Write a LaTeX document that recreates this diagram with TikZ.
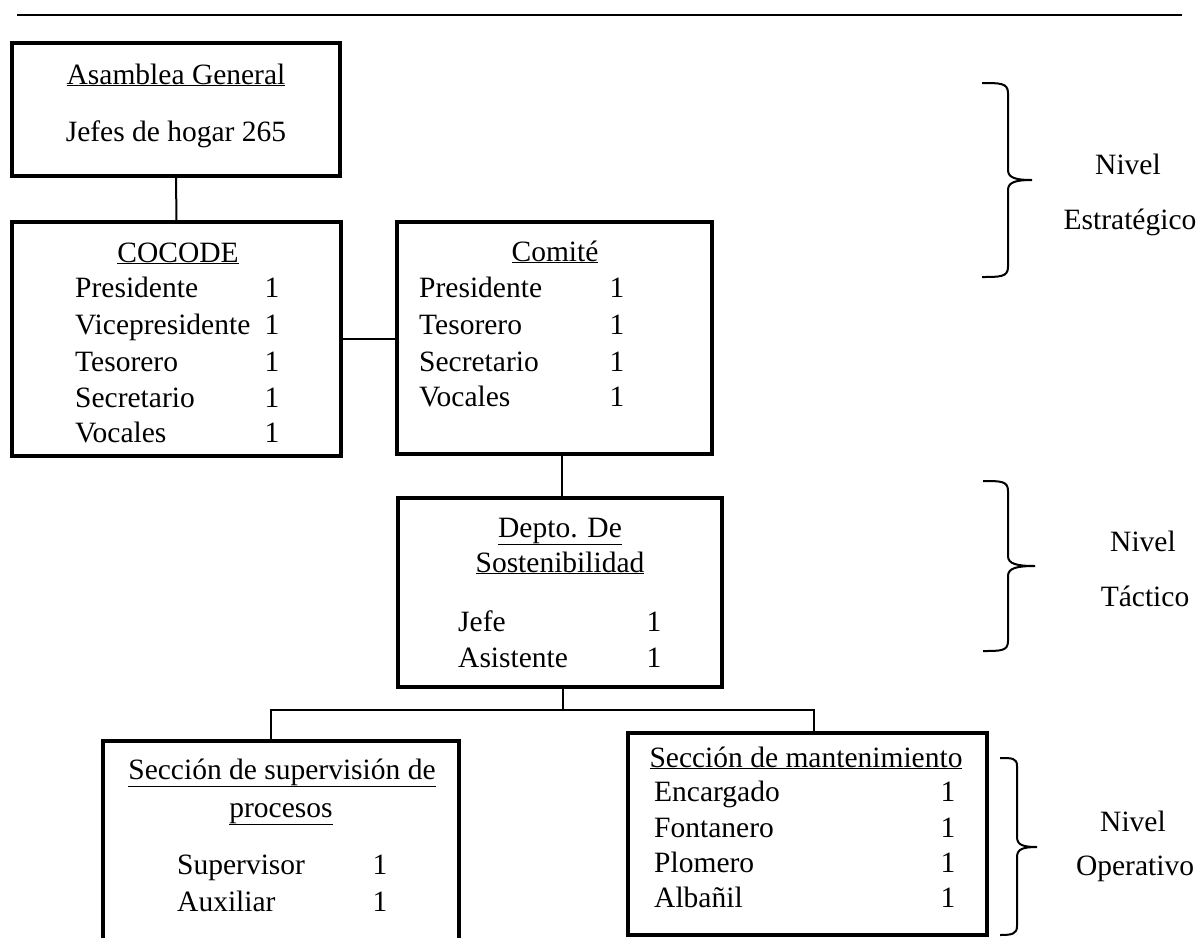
\documentclass[tikz,border=0pt]{standalone}
\usepackage{fontspec}
\setmainfont{Liberation Serif}
\begin{document}
\begin{tikzpicture}[x=1pt,y=-1pt,
  every node/.style={font=\fontsize{29.5}{35}\selectfont, inner sep=0pt},
  orgbox/.style={draw, line width=3.2pt, rectangle},
  conn/.style={line width=2pt},
  bracepath/.style={line width=2pt},
  title/.style={anchor=base},
  item/.style={anchor=base west},
  num/.style={anchor=base}]
\useasboundingbox (0,0) rectangle (1196,937);
\clip (0,0) rectangle (1196,937);
% top rule
\coordinate (ruleL) at (17,15);
\coordinate (ruleR) at (1182,15);
\draw[line width=2.2pt] (ruleL) -- (ruleR);

% boxes
\node[orgbox, minimum width=328pt, minimum height=133pt] (asam) at (176,109.5) {};
\node[orgbox, minimum width=329pt, minimum height=234pt] (cocode) at (176.5,339) {};
\node[orgbox, minimum width=315pt, minimum height=232pt] (comite) at (554.5,338) {};
\node[orgbox, minimum width=324pt, minimum height=189pt] (depto) at (560,592.5) {};
\node[orgbox, minimum width=356pt, minimum height=219pt] (sup) at (281,850.5) {};
\node[orgbox, minimum width=359pt, minimum height=202pt] (mant) at (807.5,834) {};

% connectors
\draw[conn] (asam.south) -- (cocode.north);
\draw[conn] (cocode.east) -- (cocode.east -| comite.west);
\coordinate (cd) at (562,400);
\draw[conn] (cd |- comite.south) -- (cd |- depto.north);
\coordinate (jl) at (271,710);
\coordinate (jm) at (563,710);
\coordinate (jr) at (814,710);
\draw[conn] (jm |- depto.south) -- (jm);
\draw[conn] (jl |- sup.north) -- (jl) -- (jr) -- (jr |- mant.north);

% Asamblea
\node[title] (t1) at (176,84) {\underline{Asamblea General}};
\node[title] (t2) at (176,141) {Jefes de hogar 265};

% COCODE
\node[title] (c0) at (178,262) {\underline{COCODE}};
\node[item] (c1) at (75,297) {Presidente};
\node[item] (c2) at (75,334) {Vicepresidente};
\node[item] (c3) at (75,371) {Tesorero};
\node[item] (c4) at (75,407) {Secretario};
\node[item] (c5) at (75,442) {Vocales};
\node[num] (cn1) at (272,297) {1};
\node[num] (cn2) at (272,334) {1};
\node[num] (cn3) at (272,371) {1};
\node[num] (cn4) at (272,407) {1};
\node[num] (cn5) at (272,442) {1};

% Comite
\node[title] (m0) at (555,261) {\underline{Comité}};
\node[item] (m1) at (419,297) {Presidente};
\node[item] (m2) at (419,334) {Tesorero};
\node[item] (m3) at (419,371) {Secretario};
\node[item] (m4) at (419,406) {Vocales};
\node[num] (mn1) at (617,297) {1};
\node[num] (mn2) at (617,334) {1};
\node[num] (mn3) at (617,371) {1};
\node[num] (mn4) at (617,406) {1};

% Depto
\node[title] (d0) at (560,537) {\underline{Depto. De}};
\node[title] (d1) at (560,572) {\underline{Sostenibilidad}};
\node[item] (d2) at (458,631) {Jefe};
\node[item] (d3) at (458,667) {Asistente};
\node[num] (dn2) at (654,631) {1};
\node[num] (dn3) at (654,667) {1};

% Supervision
\node[title] (s0) at (282,779) {\underline{Sección de supervisión de}};
\node[title] (s1) at (281,817) {\underline{procesos}};
\node[item] (s2) at (177,874) {Supervisor};
\node[item] (s3) at (177,911) {Auxiliar};
\node[num] (sn2) at (380,874) {1};
\node[num] (sn3) at (380,911) {1};

% Mantenimiento
\node[title] (p0) at (806,767) {\underline{Sección de mantenimiento}};
\node[item] (p1) at (654,801) {Encargado};
\node[item] (p2) at (654,837) {Fontanero};
\node[item] (p3) at (654,872) {Plomero};
\node[item] (p4) at (654,907) {Albañil};
\node[num] (pn1) at (948,801) {1};
\node[num] (pn2) at (948,837) {1};
\node[num] (pn3) at (948,872) {1};
\node[num] (pn4) at (948,907) {1};

% braces
\draw[bracepath] (982,83) .. controls (1000,83) and (1008,83) .. (1008,93)
  -- (1008,170) .. controls (1008,178) and (1016,180) .. (1032,180)
  .. controls (1016,180) and (1008,182) .. (1008,190)
  -- (1008,267) .. controls (1008,277) and (1000,277) .. (982,277);
\draw[bracepath] (983,481) .. controls (1001,481) and (1008,481) .. (1008,491)
  -- (1008,556) .. controls (1008,564) and (1017,566) .. (1035,566)
  .. controls (1017,566) and (1008,568) .. (1008,576)
  -- (1008,641) .. controls (1008,651) and (1001,651) .. (983,651);
\draw[bracepath] (1000,758) .. controls (1012,758) and (1017,758) .. (1017,766)
  -- (1017,837) .. controls (1017,845) and (1023,847) .. (1037,847)
  .. controls (1023,847) and (1017,849) .. (1017,857)
  -- (1017,926) .. controls (1017,934) and (1012,935) .. (1000,935);

% level labels
\node[title] (e1) at (1128,174) {Nivel};
\node[title] (e2) at (1130,229) {Estratégico};
\node[title] (k1) at (1143,551) {Nivel};
\node[title] (k2) at (1145,606) {Táctico};
\node[title] (o1) at (1133,831) {Nivel};
\node[title] (o2) at (1135,875) {Operativo};
\end{tikzpicture}
\end{document}
